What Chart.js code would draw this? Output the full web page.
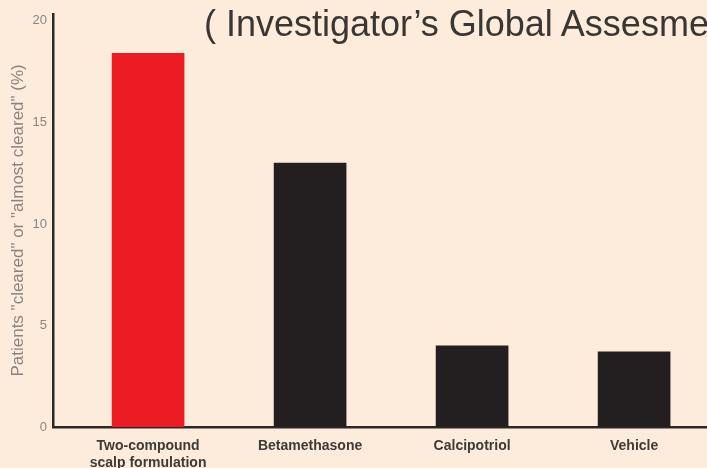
<!DOCTYPE html>
<html>
<head>
<meta charset="utf-8">
<script src="https://cdn.jsdelivr.net/npm/chart.js@4"></script>
<style>
	html, body { margin: 0; padding: 0; background: #fdecdb; overflow: hidden; }
	#wrap { position: relative; width: 707px; height: 468px; overflow: hidden; }
	#titlu {
		position: absolute; left: 204px; top: 6px; white-space: nowrap;
		font: 36px/36px "Liberation Sans", Arial, sans-serif; color: #3a3633;
	}
</style>
</head>
<body>
<div id="wrap">
	<canvas id="grafic-iga" width="707" height="468"></canvas>
	<div id="titlu">(&nbsp;Investigator’s Global Assesment)</div>
</div>
<script>
// tratamente si procent pacienti "cleared"/"almost cleared"
const tratamente = [['Two-compound', 'scalp formulation'], 'Betamethasone', 'Calcipotriol', 'Vehicle'];
const procente = [18.4, 13.0, 4.0, 3.7];
const culoriBare = ['#ec1c24', '#231f20', '#231f20', '#231f20'];
const valoriAxaY = [0, 5, 10, 15, 20];

const culoareAxa = '#2b2827';
const culoareText = '#8a8480';

function creareGrafic() {
	new Chart(
		document.getElementById('grafic-iga'),
		{
			type: 'bar',
			data: {
				labels: tratamente,
				datasets: [
					{
						label: 'IGA',
						data: procente,
						backgroundColor: culoriBare,
						barThickness: 72
					}
				]
			},
			options: {
				responsive: false,
				animation: false,
				layout: { padding: { top: 12, right: 0, bottom: 0, left: 0 } },
				plugins: {
					legend: { display: false },
					tooltip: { enabled: false }
				},
				scales: {
					x: {
						grid: { display: false, drawTicks: false },
						border: { color: culoareAxa, width: 2.5 },
						ticks: {
							color: '#3d3a38',
							padding: 11,
							font: { family: '"Liberation Sans", Arial, sans-serif', size: 14, weight: 'bold' }
						},
						// prima bara e putin mai departe de axa Y decat jumatate de pas
						afterBuildTicks: s => { s._startValue = -0.587; s._valueRange = 4.037; },
						afterFit: s => { s.height = 41; }
					},
					y: {
						min: 0,
						max: 20.35,
						grid: { display: false, drawTicks: false },
						border: { color: culoareAxa, width: 2.5 },
						ticks: {
							color: culoareText,
							padding: 6,
							font: { family: '"Liberation Sans", Arial, sans-serif', size: 13 }
						},
						afterBuildTicks: s => { s.ticks = valoriAxaY.map(v => ({ value: v })); },
						afterFit: s => { s.width = 53; },
						title: {
							display: true,
							text: 'Patients "cleared" or "almost cleared" (%)',
							color: culoareText,
							padding: { top: 8, bottom: 0 },
							font: { family: '"Liberation Sans", Arial, sans-serif', size: 17 }
						}
					}
				}
			}
		}
	);
}

window.addEventListener('load', creareGrafic);
</script>
</body>
</html>
